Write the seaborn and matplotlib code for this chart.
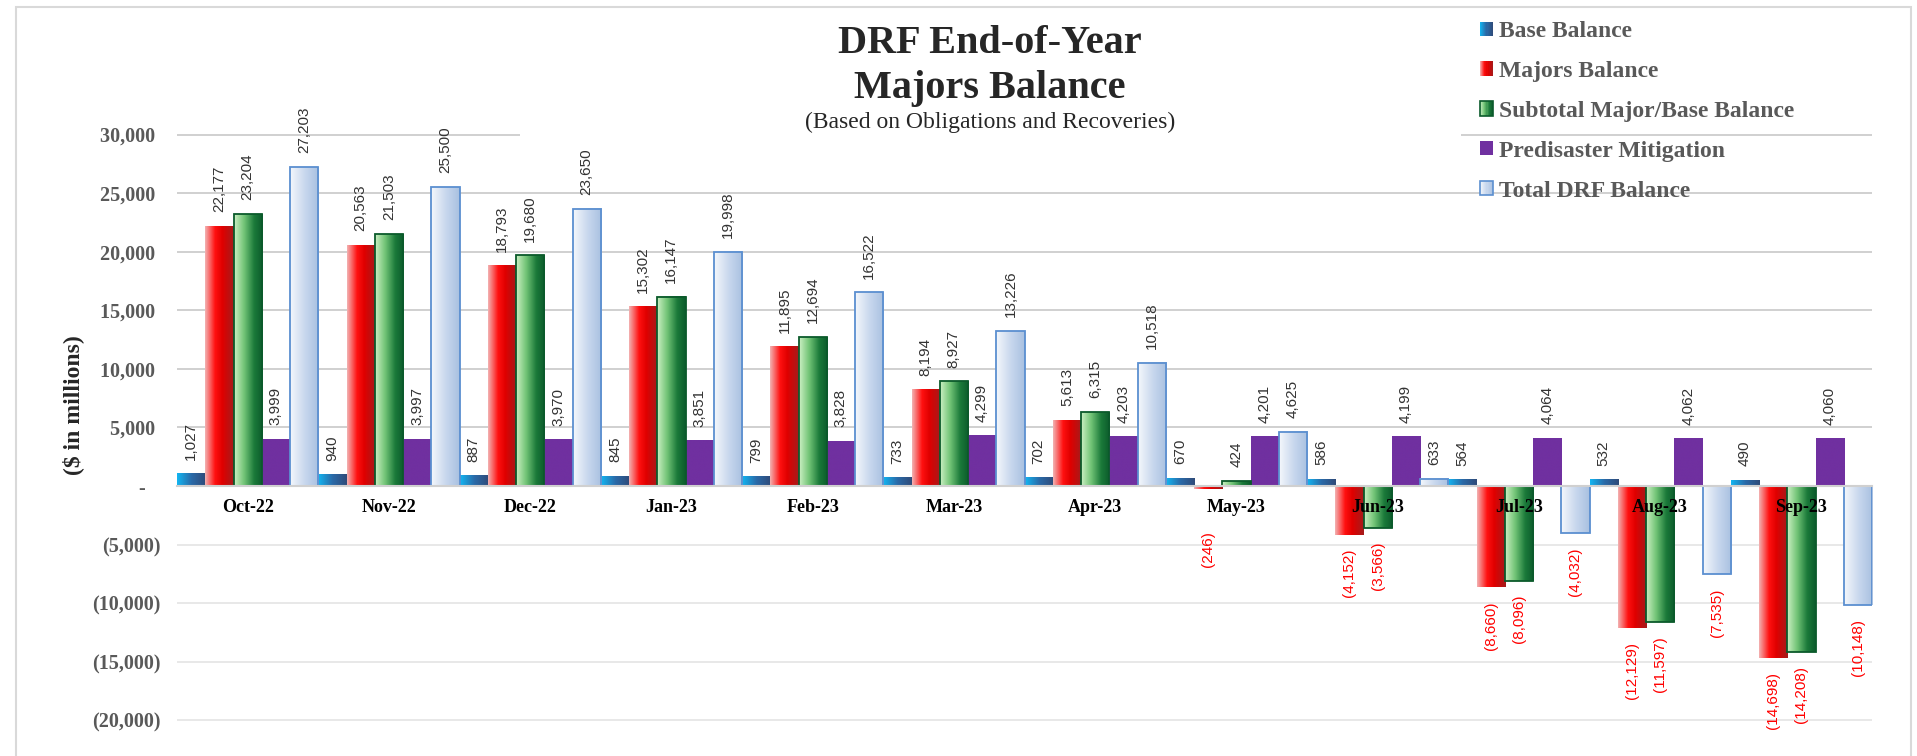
import numpy as np
import pandas as pd
import matplotlib
matplotlib.use('Agg')
import matplotlib.pyplot as plt
import seaborn as sns
from matplotlib.colors import LinearSegmentedColormap
from matplotlib.patches import Rectangle
from matplotlib.legend_handler import HandlerBase

# Datos del gráfico ($ en millones)
months = ['Oct-22', 'Nov-22', 'Dec-22', 'Jan-23', 'Feb-23', 'Mar-23',
          'Apr-23', 'May-23', 'Jun-23', 'Jul-23', 'Aug-23', 'Sep-23']
series = ['Base Balance', 'Majors Balance', 'Subtotal Major/Base Balance',
          'Predisaster Mitigation', 'Total DRF Balance']
base_balance = [1027, 940, 887, 845, 799, 733, 702, 670, 586, 564, 532, 490]
majors_balance = [22177, 20563, 18793, 15302, 11895, 8194, 5613, -246,
                  -4152, -8660, -12129, -14698]
subtotal_balance = [23204, 21503, 19680, 16147, 12694, 8927, 6315, 424,
                    -3566, -8096, -11597, -14208]
predisaster = [3999, 3997, 3970, 3851, 3828, 4299, 4203, 4201, 4199,
               4064, 4062, 4060]
total_drf = [27203, 25500, 23650, 19998, 16522, 13226, 10518, 4625, 633,
             -4032, -7535, -10148]
y_ticks = list(range(-20000, 30001, 5000))

W, H = 1917, 756

sns.set_style('white')
plt.rcParams['font.family'] = ['Liberation Serif', 'DejaVu Serif']

# Degradados horizontales de cada serie (izquierda -> derecha)
cmaps = {
    'Base Balance': LinearSegmentedColormap.from_list(
        'base', ['#12b6f2', '#2a6aa8', '#2f4a78']),
    'Majors Balance': LinearSegmentedColormap.from_list(
        'maj', [(0, '#f3b3b3'), (0.35, '#ff1010'), (0.6, '#e00000'), (1, '#a41c1c')]),
    'Subtotal Major/Base Balance': LinearSegmentedColormap.from_list(
        'sub', [(0, '#cdf0c4'), (0.35, '#72c476'), (0.7, '#1b7a3a'), (1, '#0b5a2b')]),
    'Predisaster Mitigation': LinearSegmentedColormap.from_list(
        'pre', ['#7030a0', '#7030a0']),
    'Total DRF Balance': LinearSegmentedColormap.from_list(
        'tot', ['#f5f8fc', '#c9d8ee', '#a8c0e0']),
}
edges = {'Subtotal Major/Base Balance': '#0b5a2b', 'Total DRF Balance': '#5b8fd0'}
solid = {name: cmaps[name](0.5) for name in series}


def to_fig(x, y):
    return x / W, 1 - y / H


fig = plt.figure(figsize=(W / 100, H / 100), dpi=100)

# Posición del área de trazado en píxeles
y_top, y_bot = 33000, -23500
left_px, right_px = 177, 1872
zero_px, grid30_px = 486.0, 134.5
scale = (zero_px - grid30_px) / 30000
top_px = zero_px - y_top * scale
bot_px = zero_px - y_bot * scale
ax = fig.add_axes([left_px / W, 1 - bot_px / H,
                   (right_px - left_px) / W, (bot_px - top_px) / H])

frames = []
for name, vals in zip(series, [base_balance, majors_balance, subtotal_balance,
                               predisaster, total_drf]):
    frames.append(pd.DataFrame({'Month': months, 'Series': name, 'Value': vals}))
df = pd.concat(frames, ignore_index=True)

sns.barplot(data=df, x='Month', y='Value', hue='Series', order=months,
            hue_order=series, palette=solid, width=1.0, gap=0, saturation=1,
            errorbar=None, legend=False, ax=ax)

grad = np.linspace(0, 1, 256).reshape(1, -1)
for container, name in zip(ax.containers, series):
    for bar in container:
        x0, w = bar.get_x(), bar.get_width()
        y0, h = bar.get_y(), bar.get_height()
        bar.set_zorder(2)
        bar.set_facecolor('none')
        if name in edges:
            bar.set_edgecolor(edges[name])
            bar.set_linewidth(1.3)
        else:
            bar.set_edgecolor('none')
        ax.imshow(grad, cmap=cmaps[name],
                  extent=(x0, x0 + w, min(y0, y0 + h), max(y0, y0 + h)),
                  aspect='auto', interpolation='bilinear', zorder=1.5,
                  clip_path=bar)

ax.set_xlim(-0.5, len(months) - 0.5)
ax.set_ylim(y_bot, y_top)
ax.set_xlabel('')
ax.set_ylabel('')

# Etiquetas de datos
for container in ax.containers:
    vals = container.datavalues
    labels = [f'{v:,.0f}' if v >= 0 else f'({-v:,.0f})' for v in vals]
    texts = ax.bar_label(container, labels=labels, padding=10, rotation=90,
                         fontsize=11, family=['Liberation Sans'], color='#333333')
    for t, v in zip(texts, vals):
        if v < 0:
            t.set_color('#ff0000')
            if v > -2700:
                # debajo de las etiquetas del eje, como en el original
                t.xy = (t.xy[0], -2700)

# Eje X sobre el cero (antes de las etiquetas: set_position reinicia los ticks)
ax.spines['bottom'].set_position(('data', 0))
ax.spines['bottom'].set_color('#d0d0d0')
ax.spines['bottom'].set_linewidth(1.5)
for side in ['left', 'right', 'top']:
    ax.spines[side].set_visible(False)

ax.set_xticks(range(len(months)))
ax.set_xticklabels(months, fontweight='bold', fontsize=13, color='black')
ax.set_xticks(np.arange(-0.5, len(months), 1), minor=True)
ax.tick_params(axis='x', which='major', length=0, pad=9)
ax.tick_params(axis='x', which='minor', length=6, width=1.2, color='#d0d0d0')

# Eje Y
ax.set_yticks(y_ticks)
ylabels = []
for v in y_ticks:
    if v > 0:
        ylabels.append(f'{v:,} ')
    elif v < 0:
        ylabels.append(f'({-v:,})')
    else:
        ylabels.append('-   ')
ax.set_yticklabels(ylabels, fontweight='bold', fontsize=14.5, color='#595959')
ax.tick_params(axis='y', length=0, pad=12)
ax.yaxis.grid(True, color='#d0d0d0', lw=1.4)
ax.xaxis.grid(False)
for line, v in zip(ax.yaxis.get_gridlines(), y_ticks):
    if v < 0:
        line.set_color('#e8e8e8')
ax.set_axisbelow(True)
ax.xaxis.set_zorder(3)

# Marco del gráfico y caja blanca del título
fig.add_artist(Rectangle((16 / W, -0.05), (1911 - 16) / W, 1.05 - 7 / H,
                         transform=fig.transFigure, fill=False,
                         edgecolor='#d9d9d9', lw=1.5, zorder=1))
fig.add_artist(Rectangle(to_fig(520, 139), (1461 - 520) / W, (139 - 20) / H,
                         transform=fig.transFigure, facecolor='white',
                         edgecolor='none', zorder=1))

fig.text(*to_fig(990, 53), 'DRF End-of-Year', ha='center', va='baseline',
         fontsize=29, fontweight='bold')
fig.text(*to_fig(990, 98), 'Majors Balance', ha='center', va='baseline',
         fontsize=29, fontweight='bold')
fig.text(*to_fig(990, 128), '(Based on Obligations and Recoveries)',
         ha='center', va='baseline', fontsize=17)
fig.text(*to_fig(73, 405), '($ in millions)', ha='center', va='center',
         rotation=90, fontsize=17, fontweight='bold')


class GradientSquare(HandlerBase):
    def __init__(self, cmap, edge=None):
        super().__init__()
        self.cmap = cmap
        self.edge = edge

    def create_artists(self, legend, orig_handle, xdescent, ydescent,
                       width, height, fontsize, trans):
        n = 12
        arts = []
        for i in range(n):
            arts.append(Rectangle((-xdescent + i * width / n, -ydescent),
                                  width / n, height,
                                  facecolor=self.cmap((i + 0.5) / n),
                                  edgecolor='none', transform=trans))
        if self.edge:
            arts.append(Rectangle((-xdescent, -ydescent), width, height,
                                  fill=False, edgecolor=self.edge, lw=1.2,
                                  transform=trans))
        return arts


handles = [Rectangle((0, 0), 1, 1) for _ in series]
hmap = {h: GradientSquare(cmaps[n], edges.get(n)) for h, n in zip(handles, series)}
fig.legend(handles, series, handler_map=hmap, loc='upper left',
           bbox_to_anchor=to_fig(1480, 21), frameon=False,
           prop=dict(family='Liberation Serif', weight='bold', size=17),
           labelcolor='#595959', handlelength=0.55, handleheight=0.55,
           handletextpad=0.25, labelspacing=0.8, borderaxespad=0,
           borderpad=0)

fig.savefig('out.png', dpi=100)
